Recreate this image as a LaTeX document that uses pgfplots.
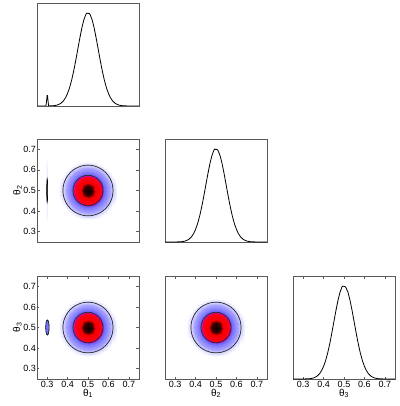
\documentclass[border=0pt]{standalone}
\usepackage{fontspec}
\setmainfont{Liberation Sans}
\usepackage{pgfplots}
\usepackage{pgfplotstable}
\pgfplotsset{compat=1.18}

% 2-D posterior density on a 15x15 grid (x varies fastest)
\pgfplotstableread[row sep=\\]{
x y c\\
0.36 0.36 0.000\\ 0.38 0.36 0.001\\ 0.40 0.36 0.003\\ 0.42 0.36 0.006\\ 0.44 0.36 0.010\\ 0.46 0.36 0.014\\ 0.48 0.36 0.018\\ 0.50 0.36 0.020\\ 0.52 0.36 0.018\\ 0.54 0.36 0.014\\ 0.56 0.36 0.010\\ 0.58 0.36 0.006\\ 0.60 0.36 0.003\\ 0.62 0.36 0.001\\ 0.64 0.36 0.000\\
0.36 0.38 0.001\\ 0.38 0.38 0.003\\ 0.40 0.38 0.008\\ 0.42 0.38 0.016\\ 0.44 0.38 0.027\\ 0.46 0.38 0.041\\ 0.48 0.38 0.052\\ 0.50 0.38 0.056\\ 0.52 0.38 0.052\\ 0.54 0.38 0.041\\ 0.56 0.38 0.027\\ 0.58 0.38 0.016\\ 0.60 0.38 0.008\\ 0.62 0.38 0.003\\ 0.64 0.38 0.001\\
0.36 0.40 0.003\\ 0.38 0.40 0.008\\ 0.40 0.40 0.018\\ 0.42 0.40 0.038\\ 0.44 0.40 0.066\\ 0.46 0.40 0.098\\ 0.48 0.40 0.125\\ 0.50 0.40 0.135\\ 0.52 0.40 0.125\\ 0.54 0.40 0.098\\ 0.56 0.40 0.066\\ 0.58 0.40 0.038\\ 0.60 0.40 0.018\\ 0.62 0.40 0.008\\ 0.64 0.40 0.003\\
0.36 0.42 0.006\\ 0.38 0.42 0.016\\ 0.40 0.42 0.038\\ 0.42 0.42 0.077\\ 0.44 0.42 0.135\\ 0.46 0.42 0.202\\ 0.48 0.42 0.257\\ 0.50 0.42 0.278\\ 0.52 0.42 0.257\\ 0.54 0.42 0.202\\ 0.56 0.42 0.135\\ 0.58 0.42 0.077\\ 0.60 0.42 0.038\\ 0.62 0.42 0.016\\ 0.64 0.42 0.006\\
0.36 0.44 0.010\\ 0.38 0.44 0.027\\ 0.40 0.44 0.066\\ 0.42 0.44 0.135\\ 0.44 0.44 0.237\\ 0.46 0.44 0.353\\ 0.48 0.44 0.449\\ 0.50 0.44 0.487\\ 0.52 0.44 0.449\\ 0.54 0.44 0.353\\ 0.56 0.44 0.237\\ 0.58 0.44 0.135\\ 0.60 0.44 0.066\\ 0.62 0.44 0.027\\ 0.64 0.44 0.010\\
0.36 0.46 0.014\\ 0.38 0.46 0.041\\ 0.40 0.46 0.098\\ 0.42 0.46 0.202\\ 0.44 0.46 0.353\\ 0.46 0.46 0.527\\ 0.48 0.46 0.670\\ 0.50 0.46 0.726\\ 0.52 0.46 0.670\\ 0.54 0.46 0.527\\ 0.56 0.46 0.353\\ 0.58 0.46 0.202\\ 0.60 0.46 0.098\\ 0.62 0.46 0.041\\ 0.64 0.46 0.014\\
0.36 0.48 0.018\\ 0.38 0.48 0.052\\ 0.40 0.48 0.125\\ 0.42 0.48 0.257\\ 0.44 0.48 0.449\\ 0.46 0.48 0.670\\ 0.48 0.48 0.852\\ 0.50 0.48 0.923\\ 0.52 0.48 0.852\\ 0.54 0.48 0.670\\ 0.56 0.48 0.449\\ 0.58 0.48 0.257\\ 0.60 0.48 0.125\\ 0.62 0.48 0.052\\ 0.64 0.48 0.018\\
0.36 0.50 0.020\\ 0.38 0.50 0.056\\ 0.40 0.50 0.135\\ 0.42 0.50 0.278\\ 0.44 0.50 0.487\\ 0.46 0.50 0.726\\ 0.48 0.50 0.923\\ 0.50 0.50 1.000\\ 0.52 0.50 0.923\\ 0.54 0.50 0.726\\ 0.56 0.50 0.487\\ 0.58 0.50 0.278\\ 0.60 0.50 0.135\\ 0.62 0.50 0.056\\ 0.64 0.50 0.020\\
0.36 0.52 0.018\\ 0.38 0.52 0.052\\ 0.40 0.52 0.125\\ 0.42 0.52 0.257\\ 0.44 0.52 0.449\\ 0.46 0.52 0.670\\ 0.48 0.52 0.852\\ 0.50 0.52 0.923\\ 0.52 0.52 0.852\\ 0.54 0.52 0.670\\ 0.56 0.52 0.449\\ 0.58 0.52 0.257\\ 0.60 0.52 0.125\\ 0.62 0.52 0.052\\ 0.64 0.52 0.018\\
0.36 0.54 0.014\\ 0.38 0.54 0.041\\ 0.40 0.54 0.098\\ 0.42 0.54 0.202\\ 0.44 0.54 0.353\\ 0.46 0.54 0.527\\ 0.48 0.54 0.670\\ 0.50 0.54 0.726\\ 0.52 0.54 0.670\\ 0.54 0.54 0.527\\ 0.56 0.54 0.353\\ 0.58 0.54 0.202\\ 0.60 0.54 0.098\\ 0.62 0.54 0.041\\ 0.64 0.54 0.014\\
0.36 0.56 0.010\\ 0.38 0.56 0.027\\ 0.40 0.56 0.066\\ 0.42 0.56 0.135\\ 0.44 0.56 0.237\\ 0.46 0.56 0.353\\ 0.48 0.56 0.449\\ 0.50 0.56 0.487\\ 0.52 0.56 0.449\\ 0.54 0.56 0.353\\ 0.56 0.56 0.237\\ 0.58 0.56 0.135\\ 0.60 0.56 0.066\\ 0.62 0.56 0.027\\ 0.64 0.56 0.010\\
0.36 0.58 0.006\\ 0.38 0.58 0.016\\ 0.40 0.58 0.038\\ 0.42 0.58 0.077\\ 0.44 0.58 0.135\\ 0.46 0.58 0.202\\ 0.48 0.58 0.257\\ 0.50 0.58 0.278\\ 0.52 0.58 0.257\\ 0.54 0.58 0.202\\ 0.56 0.58 0.135\\ 0.58 0.58 0.077\\ 0.60 0.58 0.038\\ 0.62 0.58 0.016\\ 0.64 0.58 0.006\\
0.36 0.60 0.003\\ 0.38 0.60 0.008\\ 0.40 0.60 0.018\\ 0.42 0.60 0.038\\ 0.44 0.60 0.066\\ 0.46 0.60 0.098\\ 0.48 0.60 0.125\\ 0.50 0.60 0.135\\ 0.52 0.60 0.125\\ 0.54 0.60 0.098\\ 0.56 0.60 0.066\\ 0.58 0.60 0.038\\ 0.60 0.60 0.018\\ 0.62 0.60 0.008\\ 0.64 0.60 0.003\\
0.36 0.62 0.001\\ 0.38 0.62 0.003\\ 0.40 0.62 0.008\\ 0.42 0.62 0.016\\ 0.44 0.62 0.027\\ 0.46 0.62 0.041\\ 0.48 0.62 0.052\\ 0.50 0.62 0.056\\ 0.52 0.62 0.052\\ 0.54 0.62 0.041\\ 0.56 0.62 0.027\\ 0.58 0.62 0.016\\ 0.60 0.62 0.008\\ 0.62 0.62 0.003\\ 0.64 0.62 0.001\\
0.36 0.64 0.000\\ 0.38 0.64 0.001\\ 0.40 0.64 0.003\\ 0.42 0.64 0.006\\ 0.44 0.64 0.010\\ 0.46 0.64 0.014\\ 0.48 0.64 0.018\\ 0.50 0.64 0.020\\ 0.52 0.64 0.018\\ 0.54 0.64 0.014\\ 0.56 0.64 0.010\\ 0.58 0.64 0.006\\ 0.60 0.64 0.003\\ 0.62 0.64 0.001\\ 0.64 0.64 0.000\\
}\dens

% contour lines (68% and 95%)
\pgfplotstableread[row sep=\\]{
x y\\
0.574 0.5\\ 0.5715 0.5192\\ 0.5641 0.537\\ 0.5523 0.5523\\ 0.537 0.5641\\ 0.5192 0.5715\\
0.5 0.574\\ 0.4808 0.5715\\ 0.463 0.5641\\ 0.4477 0.5523\\ 0.4359 0.537\\ 0.4285 0.5192\\
0.426 0.5\\ 0.4285 0.4808\\ 0.4359 0.463\\ 0.4477 0.4477\\ 0.463 0.4359\\ 0.4808 0.4285\\
0.5 0.426\\ 0.5192 0.4285\\ 0.537 0.4359\\ 0.5523 0.4477\\ 0.5641 0.463\\ 0.5715 0.4808\\
0.574 0.5\\
}\innerc
\pgfplotstableread[row sep=\\]{
x y\\
0.623 0.5\\ 0.6188 0.5318\\ 0.6065 0.5615\\ 0.587 0.587\\ 0.5615 0.6065\\ 0.5318 0.6188\\
0.5 0.623\\ 0.4682 0.6188\\ 0.4385 0.6065\\ 0.413 0.587\\ 0.3935 0.5615\\ 0.3812 0.5318\\
0.377 0.5\\ 0.3812 0.4682\\ 0.3935 0.4385\\ 0.413 0.413\\ 0.4385 0.3935\\ 0.4682 0.3812\\
0.5 0.377\\ 0.5318 0.3812\\ 0.5615 0.3935\\ 0.587 0.413\\ 0.6065 0.4385\\ 0.6188 0.4682\\
0.623 0.5\\
}\outerc

% small second mode near theta1 = 0.3
\pgfplotstableread[row sep=\\]{
x y\\
0.304 0.5\\ 0.3035 0.575\\ 0.302 0.63\\ 0.3 0.65\\ 0.298 0.63\\ 0.2965 0.575\\
0.296 0.5\\ 0.2965 0.425\\ 0.298 0.37\\ 0.3 0.35\\ 0.302 0.37\\ 0.3035 0.425\\ 0.304 0.5\\
}\haloA
\pgfplotstableread[row sep=\\]{
x y\\
0.3025 0.5\\ 0.3022 0.529\\ 0.3013 0.5502\\ 0.3 0.558\\ 0.2987 0.5502\\ 0.2978 0.529\\
0.2975 0.5\\ 0.2978 0.471\\ 0.2987 0.4498\\ 0.3 0.442\\ 0.3013 0.4498\\ 0.3022 0.471\\ 0.3025 0.5\\
}\spinA
\pgfplotstableread[row sep=\\]{
x y\\
0.3095 0.5\\ 0.3084 0.5185\\ 0.3053 0.532\\ 0.301 0.537\\ 0.2968 0.532\\ 0.2936 0.5185\\
0.2925 0.5\\ 0.2936 0.4815\\ 0.2968 0.468\\ 0.301 0.463\\ 0.3053 0.468\\ 0.3084 0.4815\\ 0.3095 0.5\\
}\spinB

% marginals
\pgfplotstableread[row sep=\\]{
x y\\
0.25 0\\ 0.26 0\\ 0.27 0\\ 0.28 0\\ 0.29 0\\ 0.294 0\\ 0.297 0.055\\ 0.2995 0.112\\ 0.3015 0.112\\ 0.304 0.055\\ 0.307 0\\
0.31 0.001\\ 0.32 0.002\\ 0.33 0.003\\ 0.34 0.006\\ 0.35 0.011\\ 0.36 0.020\\ 0.37 0.034\\ 0.38 0.056\\ 0.39 0.089\\
0.40 0.135\\ 0.41 0.198\\ 0.42 0.278\\ 0.43 0.375\\ 0.44 0.487\\ 0.45 0.607\\ 0.46 0.726\\ 0.47 0.835\\ 0.48 0.923\\
0.49 0.980\\ 0.495 0.992\\ 0.50 0.988\\ 0.505 0.990\\ 0.51 0.978\\ 0.52 0.923\\ 0.53 0.835\\ 0.54 0.726\\ 0.55 0.607\\
0.56 0.487\\ 0.57 0.375\\ 0.58 0.278\\ 0.59 0.198\\ 0.60 0.135\\ 0.61 0.089\\ 0.62 0.056\\ 0.63 0.034\\ 0.64 0.020\\
0.65 0.011\\ 0.66 0.006\\ 0.67 0.003\\ 0.68 0.002\\ 0.69 0.001\\ 0.70 0\\ 0.75 0\\
}\margA
\pgfplotstableread[row sep=\\]{
x y\\
0.25 0\\ 0.30 0\\ 0.31 0.001\\ 0.32 0.002\\ 0.33 0.003\\ 0.34 0.006\\ 0.35 0.011\\ 0.36 0.020\\ 0.37 0.034\\ 0.38 0.056\\ 0.39 0.089\\
0.40 0.135\\ 0.41 0.198\\ 0.42 0.278\\ 0.43 0.375\\ 0.44 0.487\\ 0.45 0.607\\ 0.46 0.726\\ 0.47 0.835\\ 0.48 0.923\\
0.49 0.982\\ 0.495 0.993\\ 0.50 0.985\\ 0.505 0.990\\ 0.51 0.976\\ 0.52 0.923\\ 0.53 0.835\\ 0.54 0.726\\ 0.55 0.607\\
0.56 0.487\\ 0.57 0.375\\ 0.58 0.278\\ 0.59 0.198\\ 0.60 0.135\\ 0.61 0.089\\ 0.62 0.056\\ 0.63 0.034\\ 0.64 0.020\\
0.65 0.011\\ 0.66 0.006\\ 0.67 0.003\\ 0.68 0.002\\ 0.69 0.001\\ 0.70 0\\ 0.75 0\\
}\margB
\pgfplotstableread[row sep=\\]{
x y\\
0.25 0\\ 0.30 0\\ 0.31 0.001\\ 0.32 0.002\\ 0.33 0.003\\ 0.34 0.006\\ 0.35 0.011\\ 0.36 0.020\\ 0.37 0.034\\ 0.38 0.056\\ 0.39 0.089\\
0.40 0.135\\ 0.41 0.198\\ 0.42 0.278\\ 0.43 0.375\\ 0.44 0.487\\ 0.45 0.607\\ 0.46 0.726\\ 0.47 0.835\\ 0.48 0.923\\
0.49 0.984\\ 0.495 0.992\\ 0.50 0.989\\ 0.505 0.987\\ 0.51 0.974\\ 0.52 0.923\\ 0.53 0.835\\ 0.54 0.726\\ 0.55 0.607\\
0.56 0.487\\ 0.57 0.375\\ 0.58 0.278\\ 0.59 0.198\\ 0.60 0.135\\ 0.61 0.089\\ 0.62 0.056\\ 0.63 0.034\\ 0.64 0.020\\
0.65 0.011\\ 0.66 0.006\\ 0.67 0.003\\ 0.68 0.002\\ 0.69 0.001\\ 0.70 0\\ 0.75 0\\
}\margC

\pgfplotsset{
  cp/.style={
    scale only axis, width=102pt, height=103pt,
    anchor=north west,
    xmin=0.25, xmax=0.75,
    axis line style={draw=black!65, line width=0.6pt},
    tick align=inside, major tick length=2.5pt,
    tick style={black!65, line width=0.5pt},
    tick label style={font=\fontsize{9}{10}\selectfont},
    label style={font=\fontsize{10}{11}\selectfont},
    /pgf/number format/assume math mode=true,
    /pgf/number format/fixed, /pgf/number format/fixed zerofill,
    /pgf/number format/precision=1,
    xtick={0.3,0.4,0.5,0.6,0.7}, ytick={0.3,0.4,0.5,0.6,0.7},
    yticklabel style={inner xsep=1pt},
    xticklabel style={inner ysep=2pt},
    xlabel style={yshift=2pt, inner ysep=1pt}, ylabel style={yshift=-3pt},
  },
  diag/.style={cp, ymin=0, ymax=1.1, ytick=\empty},
  twod/.style={cp, ymin=0.25, ymax=0.75,
    point meta min=0, point meta max=1,
    colormap={post}{rgb(0pt)=(1,1,1); rgb(15pt)=(1,1,1); rgb(40pt)=(0.86,0.86,1);
      rgb(100pt)=(0.64,0.62,1); rgb(300pt)=(0.42,0.38,0.98); rgb(370pt)=(0.85,0,0.55);
      rgb(430pt)=(1,0,0.08); rgb(760pt)=(0.95,0,0); rgb(880pt)=(0.3,0,0); rgb(1000pt)=(0,0,0)},
  },
  dens/.style={surf, shader=interp, mesh/rows=15, mesh/cols=15, point meta=\thisrow{c}},
  cont/.style={black!85, line width=0.7pt, smooth},
  marg/.style={black, line width=0.8pt},
}

\begin{document}
\begin{tikzpicture}
\path[use as bounding box] (0,0) rectangle (399pt,-406pt);

% row 1
\begin{axis}[diag, at={(37pt,-3pt)}, xtick=\empty]
\addplot[marg] table {\margA};
\end{axis}

% row 2
\begin{axis}[twod, at={(37pt,-139pt)}, xtick=\empty, ylabel={θ\textsubscript{2}}]
\addplot[dens] table {\dens};
\addplot[cont] table {\innerc};
\addplot[cont] table {\outerc};
\addplot[draw=none, fill={rgb,1:red,0.93;green,0.93;blue,1}, smooth] table {\haloA};
\addplot[black, fill=black!75, line width=0.5pt, smooth] table {\spinA};
\end{axis}
\begin{axis}[diag, at={(165pt,-139pt)}, xtick=\empty]
\addplot[marg] table {\margB};
\end{axis}

% row 3
\begin{axis}[twod, at={(37pt,-276pt)}, xlabel={θ\textsubscript{1}}, ylabel={θ\textsubscript{3}}]
\addplot[dens] table {\dens};
\addplot[cont] table {\innerc};
\addplot[cont] table {\outerc};
\addplot[black, fill={rgb,1:red,0.45;green,0.45;blue,1}, line width=0.6pt, smooth] table {\spinB};
\end{axis}
\begin{axis}[twod, at={(165pt,-276pt)}, ytick=\empty, xlabel={θ\textsubscript{2}}]
\addplot[dens] table {\dens};
\addplot[cont] table {\innerc};
\addplot[cont] table {\outerc};
\end{axis}
\begin{axis}[diag, at={(293pt,-276pt)}, xlabel={θ\textsubscript{3}}]
\addplot[marg] table {\margC};
\end{axis}
\end{tikzpicture}
\end{document}
